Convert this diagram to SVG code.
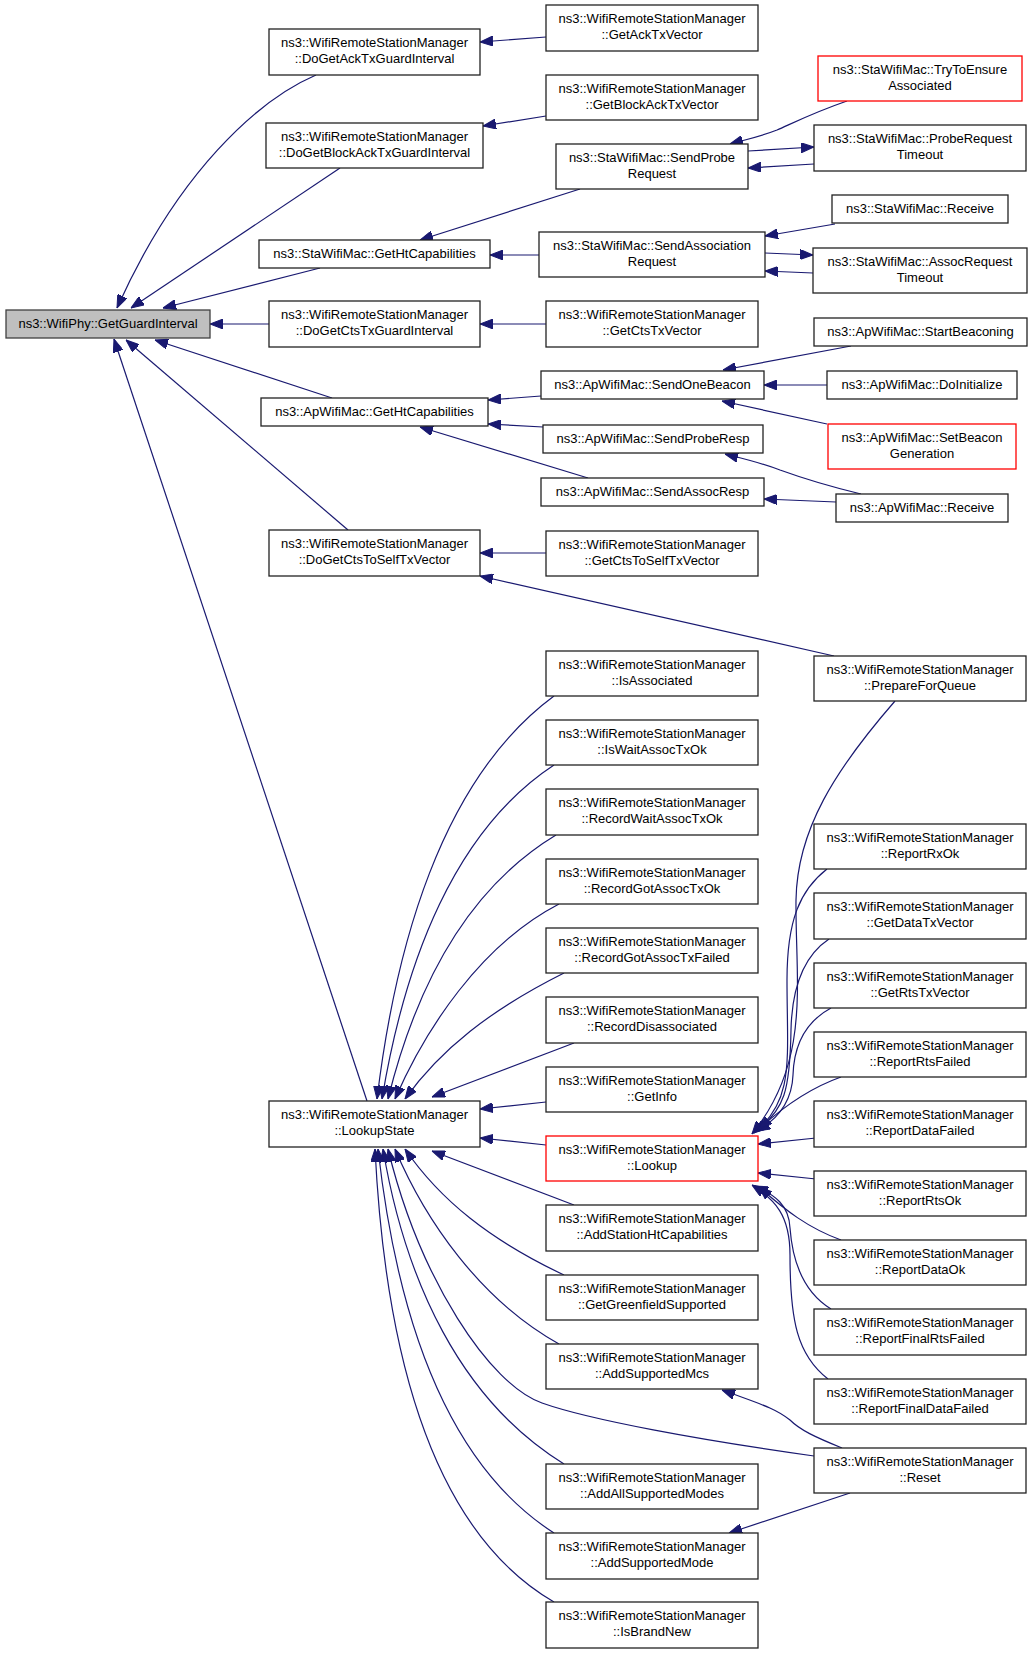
<svg xmlns="http://www.w3.org/2000/svg" width="1032" height="1653" viewBox="0 0 1032 1653">
<style>
.n rect{fill:#fff;stroke:#222;stroke-width:1.3}
.n.root rect{fill:#bfbfbf;stroke:#404040}
.n.red rect{stroke:#ff0000}
.n text{font-family:"Liberation Sans",Arial,sans-serif;font-size:13px;fill:#000;text-anchor:middle}
.e path{fill:none;stroke:#191970;stroke-width:1.2;marker-end:url(#ah)}
</style>
<defs>
<marker id="ah" viewBox="0 0 13 10" refX="13" refY="5" markerWidth="13" markerHeight="10" markerUnits="userSpaceOnUse" orient="auto">
<path d="M0,0 L13,5 L0,10 z" fill="#191970" stroke="#191970"/>
</marker>
</defs>
<rect width="1032" height="1653" fill="#fff"/>
<g id="edges" class="e">
<path d="M316,75 C258,100 178,172 117,308"/>
<path d="M340,168 L131,308"/>
<path d="M320,268 L163,308"/>
<path d="M269,324 L210,324"/>
<path d="M332,398 L155,340"/>
<path d="M348,530 L126,340"/>
<path d="M367,1101 L114,339"/>
<path d="M546,37 L480,42"/>
<path d="M546,116 L483,126"/>
<path d="M580,189 L420,240"/>
<path d="M539,255 L490,255"/>
<path d="M847,101 C815,112 795,122 777,130 C762,136 748,139 730,144"/>
<path d="M748,151 L814,147"/>
<path d="M814,164 L748,168"/>
<path d="M835,224 L765,236"/>
<path d="M765,253 L813,255"/>
<path d="M813,273 L765,271"/>
<path d="M546,324 L480,324"/>
<path d="M541,396 L488,400"/>
<path d="M543,427 L488,424"/>
<path d="M588,478 L420,427"/>
<path d="M851,346 L723,370"/>
<path d="M827,385 L764,385"/>
<path d="M827,424 L722,401"/>
<path d="M861,494 C828,486 802,478 780,470 C762,463 745,459 725,454"/>
<path d="M836,502 L764,499"/>
<path d="M546,553 L480,553"/>
<path d="M834,656 L480,576"/>
<path d="M554,696 C440,780 395,950 377,1099"/>
<path d="M554,765 C455,830 405,960 382,1099"/>
<path d="M556,835 C465,890 415,990 388,1099"/>
<path d="M559,904 C480,945 425,1030 395,1099"/>
<path d="M564,973 C490,1010 440,1050 405,1099"/>
<path d="M574,1043 L432,1097"/>
<path d="M546,1102 L480,1109"/>
<path d="M546,1145 L480,1138"/>
<path d="M574,1205 L432,1151"/>
<path d="M564,1275 C490,1240 440,1200 405,1149"/>
<path d="M559,1344 C480,1300 425,1220 395,1149"/>
<path d="M814,1456 C700,1440 590,1420 542,1403 C490,1385 420,1280 388,1149"/>
<path d="M564,1464 C460,1400 405,1280 383,1149"/>
<path d="M554,1533 C440,1460 395,1300 378,1149"/>
<path d="M554,1602 C430,1530 385,1350 375,1149"/>
<path d="M895,701 C835,770 797,830 796,900 C795,980 812,1060 752,1134"/>
<path d="M827,869 C800,890 787,920 787,980 C787,1060 795,1100 754,1133"/>
<path d="M829,939 C805,955 792,985 791,1030 C790,1090 785,1110 755,1132"/>
<path d="M831,1008 C805,1022 794,1045 793,1075 C792,1100 780,1118 757,1131"/>
<path d="M841,1077 C810,1088 785,1105 759,1129"/>
<path d="M816,1138 L758,1144"/>
<path d="M816,1179 L758,1173"/>
<path d="M841,1240 C808,1228 785,1210 759,1187"/>
<path d="M831,1309 C800,1290 792,1255 790,1228 C789,1205 775,1195 755,1186"/>
<path d="M828,1379 C797,1355 790,1320 790,1255 C790,1215 775,1200 752,1185"/>
<path d="M842,1448 C815,1437 800,1430 790,1420 C775,1408 760,1404 722,1390"/>
<path d="M850,1493 L729,1533"/>
</g>
<g id="n_root" class="n root"><rect x="6" y="310" width="204" height="28"/><text x="108" y="328">ns3::WifiPhy::GetGuardInterval</text></g>
<g id="n_doGetAckGI" class="n"><rect x="269" y="29" width="211" height="46"/><text x="374.5" y="47">ns3::WifiRemoteStationManager</text><text x="374.5" y="63">::DoGetAckTxGuardInterval</text></g>
<g id="n_doGetBlockAckGI" class="n"><rect x="266" y="123" width="217" height="45"/><text x="374.5" y="141">ns3::WifiRemoteStationManager</text><text x="374.5" y="157">::DoGetBlockAckTxGuardInterval</text></g>
<g id="n_staGetHt" class="n"><rect x="259" y="240" width="231" height="28"/><text x="374.5" y="258">ns3::StaWifiMac::GetHtCapabilities</text></g>
<g id="n_doGetCtsGI" class="n"><rect x="269" y="301" width="211" height="46"/><text x="374.5" y="319">ns3::WifiRemoteStationManager</text><text x="374.5" y="335">::DoGetCtsTxGuardInterval</text></g>
<g id="n_apGetHt" class="n"><rect x="261" y="398" width="227" height="28"/><text x="374.5" y="416">ns3::ApWifiMac::GetHtCapabilities</text></g>
<g id="n_doGetCtsToSelf" class="n"><rect x="269" y="530" width="211" height="46"/><text x="374.5" y="548">ns3::WifiRemoteStationManager</text><text x="374.5" y="564">::DoGetCtsToSelfTxVector</text></g>
<g id="n_lookupState" class="n"><rect x="269" y="1101" width="211" height="46"/><text x="374.5" y="1119">ns3::WifiRemoteStationManager</text><text x="374.5" y="1135">::LookupState</text></g>
<g id="n_getAckTxVector" class="n"><rect x="546" y="5" width="212" height="46"/><text x="652" y="23">ns3::WifiRemoteStationManager</text><text x="652" y="39">::GetAckTxVector</text></g>
<g id="n_getBlockAckTxVector" class="n"><rect x="546" y="75" width="212" height="45"/><text x="652" y="93">ns3::WifiRemoteStationManager</text><text x="652" y="109">::GetBlockAckTxVector</text></g>
<g id="n_sendProbeRequest" class="n"><rect x="556" y="144" width="192" height="45"/><text x="652" y="162">ns3::StaWifiMac::SendProbe</text><text x="652" y="178">Request</text></g>
<g id="n_sendAssocRequest" class="n"><rect x="539" y="232" width="226" height="45"/><text x="652" y="250">ns3::StaWifiMac::SendAssociation</text><text x="652" y="266">Request</text></g>
<g id="n_getCtsTxVector" class="n"><rect x="546" y="301" width="212" height="46"/><text x="652" y="319">ns3::WifiRemoteStationManager</text><text x="652" y="335">::GetCtsTxVector</text></g>
<g id="n_sendOneBeacon" class="n"><rect x="541" y="371" width="223" height="28"/><text x="652.5" y="389">ns3::ApWifiMac::SendOneBeacon</text></g>
<g id="n_sendProbeResp" class="n"><rect x="543" y="425" width="220" height="28"/><text x="653" y="443">ns3::ApWifiMac::SendProbeResp</text></g>
<g id="n_sendAssocResp" class="n"><rect x="541" y="478" width="223" height="28"/><text x="652.5" y="496">ns3::ApWifiMac::SendAssocResp</text></g>
<g id="n_getCtsToSelfTxVector" class="n"><rect x="546" y="531" width="212" height="45"/><text x="652" y="549">ns3::WifiRemoteStationManager</text><text x="652" y="565">::GetCtsToSelfTxVector</text></g>
<g id="n_isAssociated" class="n"><rect x="546" y="651" width="212" height="45"/><text x="652" y="669">ns3::WifiRemoteStationManager</text><text x="652" y="685">::IsAssociated</text></g>
<g id="n_isWaitAssocTxOk" class="n"><rect x="546" y="720" width="212" height="45"/><text x="652" y="738">ns3::WifiRemoteStationManager</text><text x="652" y="754">::IsWaitAssocTxOk</text></g>
<g id="n_recordWaitAssocTxOk" class="n"><rect x="546" y="789" width="212" height="46"/><text x="652" y="807">ns3::WifiRemoteStationManager</text><text x="652" y="823">::RecordWaitAssocTxOk</text></g>
<g id="n_recordGotAssocTxOk" class="n"><rect x="546" y="859" width="212" height="45"/><text x="652" y="877">ns3::WifiRemoteStationManager</text><text x="652" y="893">::RecordGotAssocTxOk</text></g>
<g id="n_recordGotAssocTxFailed" class="n"><rect x="546" y="928" width="212" height="45"/><text x="652" y="946">ns3::WifiRemoteStationManager</text><text x="652" y="962">::RecordGotAssocTxFailed</text></g>
<g id="n_recordDisassociated" class="n"><rect x="546" y="997" width="212" height="46"/><text x="652" y="1015">ns3::WifiRemoteStationManager</text><text x="652" y="1031">::RecordDisassociated</text></g>
<g id="n_getInfo" class="n"><rect x="546" y="1067" width="212" height="45"/><text x="652" y="1085">ns3::WifiRemoteStationManager</text><text x="652" y="1101">::GetInfo</text></g>
<g id="n_lookup" class="n red"><rect x="546" y="1136" width="212" height="45"/><text x="652" y="1154">ns3::WifiRemoteStationManager</text><text x="652" y="1170">::Lookup</text></g>
<g id="n_addStationHt" class="n"><rect x="546" y="1205" width="212" height="46"/><text x="652" y="1223">ns3::WifiRemoteStationManager</text><text x="652" y="1239">::AddStationHtCapabilities</text></g>
<g id="n_getGreenfield" class="n"><rect x="546" y="1275" width="212" height="45"/><text x="652" y="1293">ns3::WifiRemoteStationManager</text><text x="652" y="1309">::GetGreenfieldSupported</text></g>
<g id="n_addSupportedMcs" class="n"><rect x="546" y="1344" width="212" height="45"/><text x="652" y="1362">ns3::WifiRemoteStationManager</text><text x="652" y="1378">::AddSupportedMcs</text></g>
<g id="n_addAllSupportedModes" class="n"><rect x="546" y="1464" width="212" height="45"/><text x="652" y="1482">ns3::WifiRemoteStationManager</text><text x="652" y="1498">::AddAllSupportedModes</text></g>
<g id="n_addSupportedMode" class="n"><rect x="546" y="1533" width="212" height="46"/><text x="652" y="1551">ns3::WifiRemoteStationManager</text><text x="652" y="1567">::AddSupportedMode</text></g>
<g id="n_isBrandNew" class="n"><rect x="546" y="1602" width="212" height="46"/><text x="652" y="1620">ns3::WifiRemoteStationManager</text><text x="652" y="1636">::IsBrandNew</text></g>
<g id="n_tryToEnsure" class="n red"><rect x="818" y="56" width="204" height="45"/><text x="920" y="74">ns3::StaWifiMac::TryToEnsure</text><text x="920" y="90">Associated</text></g>
<g id="n_probeReqTimeout" class="n"><rect x="814" y="125" width="212" height="46"/><text x="920" y="143">ns3::StaWifiMac::ProbeRequest</text><text x="920" y="159">Timeout</text></g>
<g id="n_staReceive" class="n"><rect x="832" y="195" width="176" height="28"/><text x="920" y="213">ns3::StaWifiMac::Receive</text></g>
<g id="n_assocReqTimeout" class="n"><rect x="813" y="248" width="214" height="45"/><text x="920" y="266">ns3::StaWifiMac::AssocRequest</text><text x="920" y="282">Timeout</text></g>
<g id="n_startBeaconing" class="n"><rect x="814" y="318" width="213" height="28"/><text x="920.5" y="336">ns3::ApWifiMac::StartBeaconing</text></g>
<g id="n_doInitialize" class="n"><rect x="827" y="371" width="190" height="28"/><text x="922" y="389">ns3::ApWifiMac::DoInitialize</text></g>
<g id="n_setBeaconGen" class="n red"><rect x="828" y="424" width="188" height="45"/><text x="922" y="442">ns3::ApWifiMac::SetBeacon</text><text x="922" y="458">Generation</text></g>
<g id="n_apReceive" class="n"><rect x="836" y="494" width="172" height="28"/><text x="922" y="512">ns3::ApWifiMac::Receive</text></g>
<g id="n_prepareForQueue" class="n"><rect x="814" y="656" width="212" height="45"/><text x="920" y="674">ns3::WifiRemoteStationManager</text><text x="920" y="690">::PrepareForQueue</text></g>
<g id="n_reportRxOk" class="n"><rect x="814" y="824" width="212" height="45"/><text x="920" y="842">ns3::WifiRemoteStationManager</text><text x="920" y="858">::ReportRxOk</text></g>
<g id="n_getDataTxVector" class="n"><rect x="814" y="893" width="212" height="46"/><text x="920" y="911">ns3::WifiRemoteStationManager</text><text x="920" y="927">::GetDataTxVector</text></g>
<g id="n_getRtsTxVector" class="n"><rect x="814" y="963" width="212" height="45"/><text x="920" y="981">ns3::WifiRemoteStationManager</text><text x="920" y="997">::GetRtsTxVector</text></g>
<g id="n_reportRtsFailed" class="n"><rect x="814" y="1032" width="212" height="45"/><text x="920" y="1050">ns3::WifiRemoteStationManager</text><text x="920" y="1066">::ReportRtsFailed</text></g>
<g id="n_reportDataFailed" class="n"><rect x="814" y="1101" width="212" height="46"/><text x="920" y="1119">ns3::WifiRemoteStationManager</text><text x="920" y="1135">::ReportDataFailed</text></g>
<g id="n_reportRtsOk" class="n"><rect x="814" y="1171" width="212" height="45"/><text x="920" y="1189">ns3::WifiRemoteStationManager</text><text x="920" y="1205">::ReportRtsOk</text></g>
<g id="n_reportDataOk" class="n"><rect x="814" y="1240" width="212" height="45"/><text x="920" y="1258">ns3::WifiRemoteStationManager</text><text x="920" y="1274">::ReportDataOk</text></g>
<g id="n_reportFinalRtsFailed" class="n"><rect x="814" y="1309" width="212" height="46"/><text x="920" y="1327">ns3::WifiRemoteStationManager</text><text x="920" y="1343">::ReportFinalRtsFailed</text></g>
<g id="n_reportFinalDataFailed" class="n"><rect x="814" y="1379" width="212" height="45"/><text x="920" y="1397">ns3::WifiRemoteStationManager</text><text x="920" y="1413">::ReportFinalDataFailed</text></g>
<g id="n_reset" class="n"><rect x="814" y="1448" width="212" height="45"/><text x="920" y="1466">ns3::WifiRemoteStationManager</text><text x="920" y="1482">::Reset</text></g>
</svg>
